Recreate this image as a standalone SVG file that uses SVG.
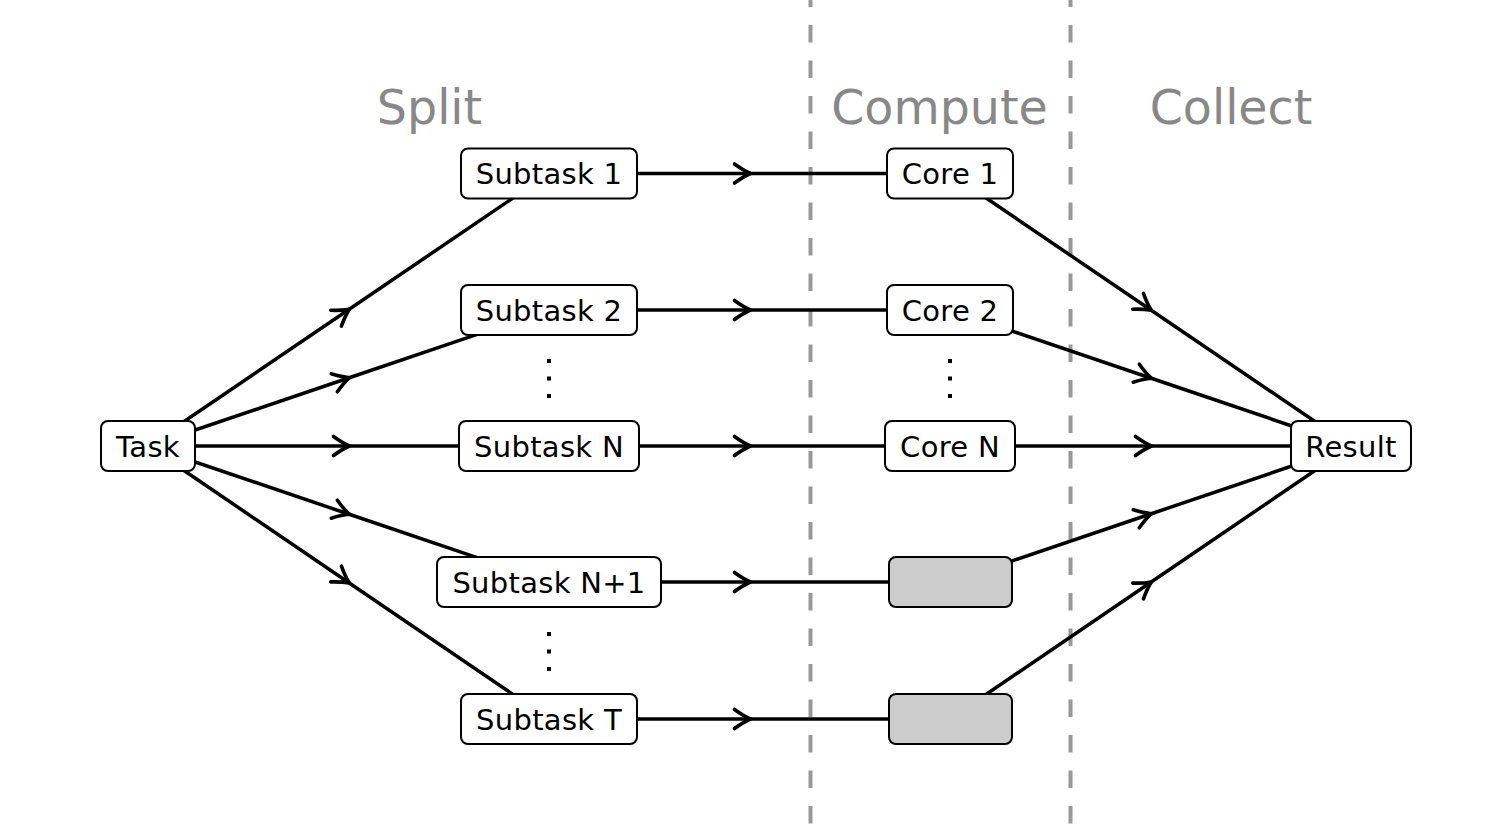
<svg xmlns="http://www.w3.org/2000/svg" width="1500" height="825" viewBox="0 0 1500 825">
<style>
.n rect{fill:#fff;stroke:#000;stroke-width:2}
.n rect.g{fill:#ccc}
.n text{font-family:"DejaVu Sans",sans-serif;font-size:29px;letter-spacing:0.3px;text-anchor:middle;fill:#000}
.t{font-family:"DejaVu Sans",sans-serif;font-size:47.5px;text-anchor:middle;fill:#888}
.e path{fill:none;stroke:#000;stroke-width:3.5;marker-mid:url(#a)}
.d{stroke:#999;stroke-width:4;stroke-dasharray:17.5 18;stroke-dashoffset:10.5}
.dot{fill:#000}
</style>
<defs>
<marker id="a" markerUnits="userSpaceOnUse" markerWidth="30" markerHeight="30" viewBox="-20 -15 30 30" refX="0" refY="0" orient="auto">
<path d="M-15,-9.5 Q-6,-3 1,0 Q-6,3 -15,9.5" fill="none" stroke="#000" stroke-width="3.6" stroke-linecap="round" stroke-linejoin="round"/>
</marker>
</defs>
<line class="d" x1="810.5" y1="0" x2="810.5" y2="825"/>
<line class="d" x1="1070.5" y1="0" x2="1070.5" y2="825"/>
<text class="t" x="429.5" y="124">Split</text>
<text class="t" x="939.5" y="124">Compute</text>
<text class="t" x="1231" y="124">Collect</text>
<g id="connectors" class="e">
<path d="M148,446 L348.5,309.75 L549,173.5"/>
<path d="M148,446 L348.5,378 L549,310"/>
<path d="M148,446 L348.5,446 L549,446"/>
<path d="M148,446 L348.5,514 L549,582"/>
<path d="M148,446 L348.5,582.5 L549,719"/>
<path d="M549,173.5 L749.5,173.5 L950,173.5"/>
<path d="M549,310 L749.5,310 L950,310"/>
<path d="M549,446 L749.5,446 L950,446"/>
<path d="M549,582 L749.5,582 L950,582"/>
<path d="M549,719 L749.5,719 L950,719"/>
<path d="M950,173.5 L1150.5,309.75 L1351,446"/>
<path d="M950,310 L1150.5,378 L1351,446"/>
<path d="M950,446 L1150.5,446 L1351,446"/>
<path d="M950,582 L1150.5,514 L1351,446"/>
<path d="M950,719 L1150.5,582.5 L1351,446"/>
</g>
<g id="task" class="n"><rect x="101" y="421" width="94" height="50" rx="7"/><text x="148" y="456.5">Task</text></g>
<g id="subtask1" class="n"><rect x="461" y="148.5" width="176" height="50" rx="7"/><text x="549" y="184">Subtask 1</text></g>
<g id="subtask2" class="n"><rect x="461" y="285" width="176" height="50" rx="7"/><text x="549" y="320.5">Subtask 2</text></g>
<g id="subtaskN" class="n"><rect x="459" y="421" width="180" height="50" rx="7"/><text x="549" y="456.5">Subtask N</text></g>
<g id="subtaskN1" class="n"><rect x="437" y="557" width="224" height="50" rx="7"/><text x="549" y="592.5">Subtask N+1</text></g>
<g id="subtaskT" class="n"><rect x="461" y="694" width="176" height="50" rx="7"/><text x="549" y="729.5">Subtask T</text></g>
<g id="core1" class="n"><rect x="887" y="148.5" width="126" height="50" rx="7"/><text x="950" y="184">Core 1</text></g>
<g id="core2" class="n"><rect x="887" y="285" width="126" height="50" rx="7"/><text x="950" y="320.5">Core 2</text></g>
<g id="coreN" class="n"><rect x="885" y="421" width="130" height="50" rx="7"/><text x="950" y="456.5">Core N</text></g>
<g id="coreX1" class="n"><rect class="g" x="889" y="557" width="123" height="50" rx="7"/></g>
<g id="coreX2" class="n"><rect class="g" x="889" y="694" width="123" height="50" rx="7"/></g>
<g id="result" class="n"><rect x="1291" y="421" width="120" height="50" rx="7"/><text x="1351" y="456.5">Result</text></g>
<g id="dots">
<rect class="dot" x="547" y="359" width="4" height="4"/><rect class="dot" x="547" y="376.5" width="4" height="4"/><rect class="dot" x="547" y="394" width="4" height="4"/>
<rect class="dot" x="948" y="359" width="4" height="4"/><rect class="dot" x="948" y="376.5" width="4" height="4"/><rect class="dot" x="948" y="394" width="4" height="4"/>
<rect class="dot" x="547" y="632" width="4" height="4"/><rect class="dot" x="547" y="649.5" width="4" height="4"/><rect class="dot" x="547" y="667" width="4" height="4"/>
</g>
</svg>
